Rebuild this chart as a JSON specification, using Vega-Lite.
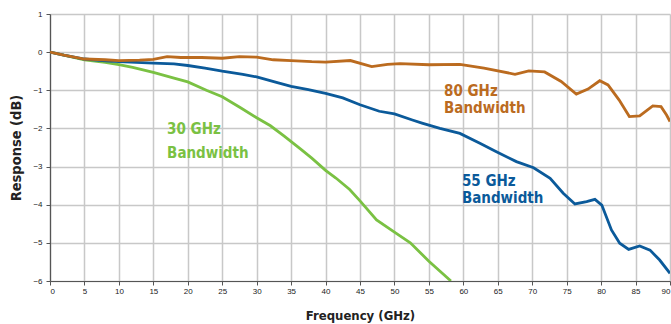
{
  "$schema": "https://vega.github.io/schema/vega-lite/v6.json",
  "width": 620,
  "height": 267,
  "autosize": {"type": "none"},
  "padding": {"left": 50, "top": 14, "right": 1, "bottom": 43},
  "background": "white",
  "config": {
    "view": {"stroke": null},
    "axis": {
      "grid": true,
      "gridColor": "#c8c8c8",
      "gridWidth": 1.5,
      "domainColor": "#555555",
      "domainWidth": 1.2,
      "tickColor": "#555555",
      "tickSize": 4,
      "labelOverlap": false,
      "labelFont": "Liberation Sans",
      "labelFontSize": 8,
      "labelColor": "#222222",
      "titleFont": "DejaVu Sans Condensed",
      "titleFontWeight": "bold",
      "titleFontSize": 13,
      "titleColor": "#222222"
    }
  },
  "datasets": {
    "curves": [
      {"series": "30 GHz", "f": 0, "db": 0},
      {"series": "30 GHz", "f": 2, "db": -0.08},
      {"series": "30 GHz", "f": 5, "db": -0.2},
      {"series": "30 GHz", "f": 8, "db": -0.27},
      {"series": "30 GHz", "f": 10, "db": -0.33},
      {"series": "30 GHz", "f": 12, "db": -0.4},
      {"series": "30 GHz", "f": 15, "db": -0.53},
      {"series": "30 GHz", "f": 18, "db": -0.68},
      {"series": "30 GHz", "f": 20, "db": -0.78},
      {"series": "30 GHz", "f": 22.7, "db": -1.0},
      {"series": "30 GHz", "f": 25, "db": -1.17},
      {"series": "30 GHz", "f": 27.6, "db": -1.45},
      {"series": "30 GHz", "f": 30, "db": -1.72},
      {"series": "30 GHz", "f": 32, "db": -1.93},
      {"series": "30 GHz", "f": 34, "db": -2.2},
      {"series": "30 GHz", "f": 36.3, "db": -2.53},
      {"series": "30 GHz", "f": 38, "db": -2.78},
      {"series": "30 GHz", "f": 40, "db": -3.1},
      {"series": "30 GHz", "f": 41.5, "db": -3.3},
      {"series": "30 GHz", "f": 43.5, "db": -3.6},
      {"series": "30 GHz", "f": 45, "db": -3.9},
      {"series": "30 GHz", "f": 47.4, "db": -4.4},
      {"series": "30 GHz", "f": 50, "db": -4.72},
      {"series": "30 GHz", "f": 52.3, "db": -5.0},
      {"series": "30 GHz", "f": 55, "db": -5.48},
      {"series": "30 GHz", "f": 58.2, "db": -6.0},

      {"series": "55 GHz", "f": 0, "db": 0},
      {"series": "55 GHz", "f": 2, "db": -0.08},
      {"series": "55 GHz", "f": 5, "db": -0.18},
      {"series": "55 GHz", "f": 8, "db": -0.23},
      {"series": "55 GHz", "f": 10, "db": -0.25},
      {"series": "55 GHz", "f": 15, "db": -0.29},
      {"series": "55 GHz", "f": 18, "db": -0.31},
      {"series": "55 GHz", "f": 20, "db": -0.35},
      {"series": "55 GHz", "f": 22.5, "db": -0.42},
      {"series": "55 GHz", "f": 25, "db": -0.5},
      {"series": "55 GHz", "f": 28, "db": -0.58},
      {"series": "55 GHz", "f": 30, "db": -0.65},
      {"series": "55 GHz", "f": 33, "db": -0.8},
      {"series": "55 GHz", "f": 35, "db": -0.9},
      {"series": "55 GHz", "f": 37.5, "db": -0.98},
      {"series": "55 GHz", "f": 40, "db": -1.08},
      {"series": "55 GHz", "f": 42.5, "db": -1.2},
      {"series": "55 GHz", "f": 45, "db": -1.38},
      {"series": "55 GHz", "f": 47.8, "db": -1.55},
      {"series": "55 GHz", "f": 50, "db": -1.62},
      {"series": "55 GHz", "f": 52.6, "db": -1.78},
      {"series": "55 GHz", "f": 54, "db": -1.86},
      {"series": "55 GHz", "f": 56.6, "db": -2.0},
      {"series": "55 GHz", "f": 59.5, "db": -2.13},
      {"series": "55 GHz", "f": 62.4, "db": -2.39},
      {"series": "55 GHz", "f": 64.8, "db": -2.61},
      {"series": "55 GHz", "f": 67.7, "db": -2.87},
      {"series": "55 GHz", "f": 70.2, "db": -3.03},
      {"series": "55 GHz", "f": 72.6, "db": -3.31},
      {"series": "55 GHz", "f": 74.5, "db": -3.7},
      {"series": "55 GHz", "f": 76.2, "db": -3.98},
      {"series": "55 GHz", "f": 77.9, "db": -3.92},
      {"series": "55 GHz", "f": 79.1, "db": -3.86},
      {"series": "55 GHz", "f": 80.1, "db": -4.01},
      {"series": "55 GHz", "f": 81.5, "db": -4.66},
      {"series": "55 GHz", "f": 82.7, "db": -5.01},
      {"series": "55 GHz", "f": 84, "db": -5.17},
      {"series": "55 GHz", "f": 85.6, "db": -5.08},
      {"series": "55 GHz", "f": 87.1, "db": -5.19},
      {"series": "55 GHz", "f": 88.5, "db": -5.45},
      {"series": "55 GHz", "f": 90, "db": -5.8},

      {"series": "80 GHz", "f": 0, "db": 0},
      {"series": "80 GHz", "f": 2, "db": -0.08},
      {"series": "80 GHz", "f": 5, "db": -0.18},
      {"series": "80 GHz", "f": 8, "db": -0.2},
      {"series": "80 GHz", "f": 10, "db": -0.22},
      {"series": "80 GHz", "f": 13, "db": -0.21},
      {"series": "80 GHz", "f": 15, "db": -0.19},
      {"series": "80 GHz", "f": 17, "db": -0.12},
      {"series": "80 GHz", "f": 19, "db": -0.14},
      {"series": "80 GHz", "f": 22, "db": -0.14},
      {"series": "80 GHz", "f": 25, "db": -0.16},
      {"series": "80 GHz", "f": 27.5, "db": -0.12},
      {"series": "80 GHz", "f": 30, "db": -0.13},
      {"series": "80 GHz", "f": 32.4, "db": -0.2},
      {"series": "80 GHz", "f": 35, "db": -0.22},
      {"series": "80 GHz", "f": 38, "db": -0.25},
      {"series": "80 GHz", "f": 40, "db": -0.26},
      {"series": "80 GHz", "f": 43.6, "db": -0.22},
      {"series": "80 GHz", "f": 46.7, "db": -0.38},
      {"series": "80 GHz", "f": 49, "db": -0.32},
      {"series": "80 GHz", "f": 50.8, "db": -0.3},
      {"series": "80 GHz", "f": 55, "db": -0.33},
      {"series": "80 GHz", "f": 59.5, "db": -0.32},
      {"series": "80 GHz", "f": 63, "db": -0.42},
      {"series": "80 GHz", "f": 67.5, "db": -0.58},
      {"series": "80 GHz", "f": 69.5, "db": -0.49},
      {"series": "80 GHz", "f": 71.8, "db": -0.52},
      {"series": "80 GHz", "f": 74.2, "db": -0.77},
      {"series": "80 GHz", "f": 76.4, "db": -1.1},
      {"series": "80 GHz", "f": 78.1, "db": -0.97},
      {"series": "80 GHz", "f": 79.8, "db": -0.75},
      {"series": "80 GHz", "f": 81, "db": -0.86},
      {"series": "80 GHz", "f": 82.6, "db": -1.25},
      {"series": "80 GHz", "f": 84.1, "db": -1.69},
      {"series": "80 GHz", "f": 85.6, "db": -1.67},
      {"series": "80 GHz", "f": 87.5, "db": -1.41},
      {"series": "80 GHz", "f": 88.7, "db": -1.43},
      {"series": "80 GHz", "f": 89.5, "db": -1.65},
      {"series": "80 GHz", "f": 90, "db": -1.82}
    ],
    "labels": [
      {"series": "30 GHz", "f": 17.0, "db": -2.01, "text": "30 GHz"},
      {"series": "30 GHz", "f": 17.0, "db": -2.64, "text": "Bandwidth"},
      {"series": "55 GHz", "f": 59.8, "db": -3.38, "text": "55 GHz"},
      {"series": "55 GHz", "f": 59.8, "db": -3.83, "text": "Bandwidth"},
      {"series": "80 GHz", "f": 57.2, "db": -1.02, "text": "80 GHz"},
      {"series": "80 GHz", "f": 57.2, "db": -1.47, "text": "Bandwidth"}
    ]
  },
  "encoding": {
    "x": {
      "field": "f", "type": "quantitative",
      "scale": {"domain": [0, 90], "nice": false},
      "axis": {"values": [0,5,10,15,20,25,30,35,40,45,50,55,60,65,70,75,80,85,90], "labelOverlap": false, "title": "Frequency (GHz)", "labelPadding": 2, "titlePadding": 14}
    },
    "y": {
      "field": "db", "type": "quantitative",
      "scale": {"domain": [-6, 1], "nice": false},
      "axis": {"values": [-6,-5,-4,-3,-2,-1,0,1], "labelOverlap": false, "title": "Response (dB)", "titleFontSize": 14.5, "labelPadding": 4, "titlePadding": 9}
    },
    "color": {
      "field": "series", "type": "nominal",
      "scale": {"domain": ["30 GHz", "55 GHz", "80 GHz"], "range": ["#7ac143", "#0b5a9a", "#bb6b1f"]},
      "legend": null
    }
  },
  "layer": [
    {
      "data": {"name": "curves"},
      "mark": {"type": "line", "strokeWidth": 2.8, "clip": true, "interpolate": "linear"}
    },
    {
      "data": {"name": "labels"},
      "mark": {"type": "text", "align": "left", "baseline": "middle", "font": "DejaVu Sans Condensed", "fontWeight": "bold", "fontSize": 15},
      "encoding": {
        "text": {"field": "text"}
      }
    }
  ]
}
